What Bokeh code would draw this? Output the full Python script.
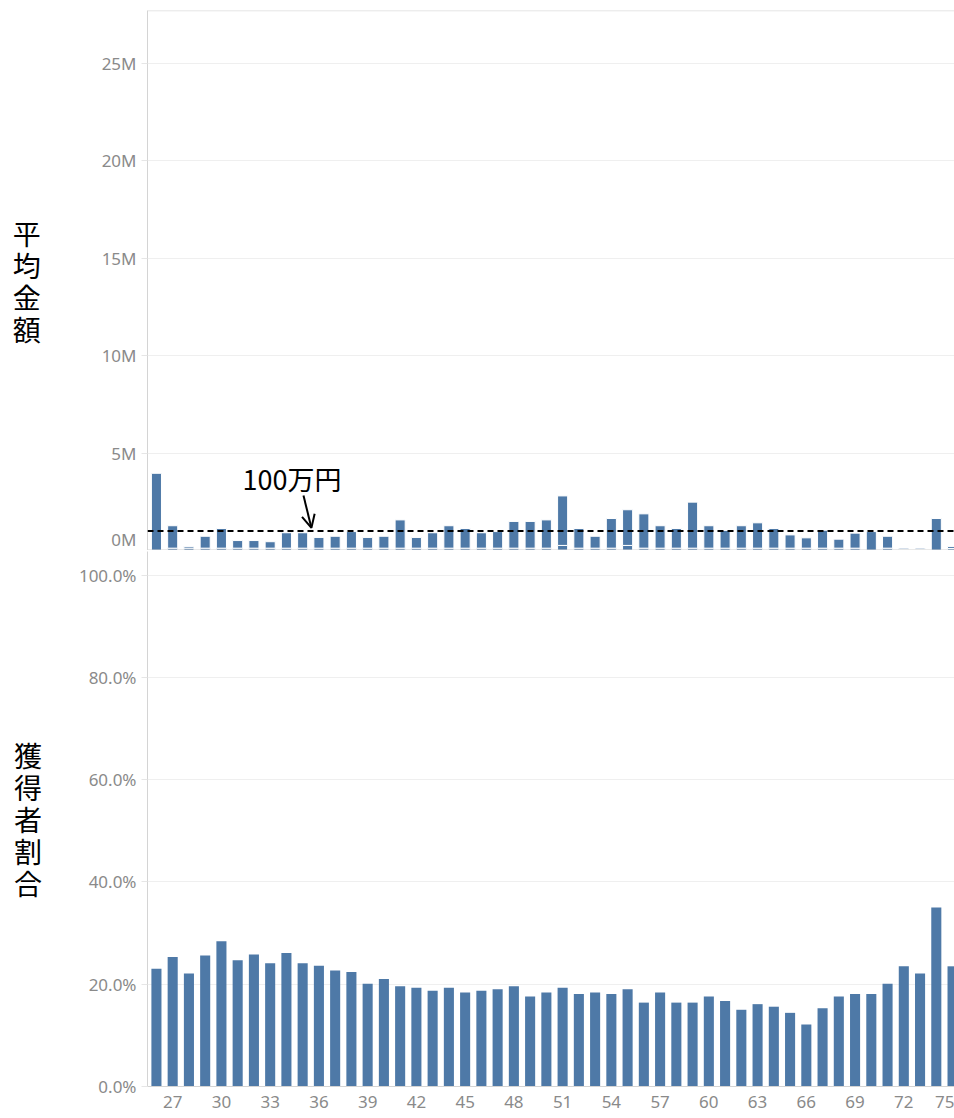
from bokeh.plotting import figure
from bokeh.layouts import column
from bokeh.models import (FixedTicker, PrintfTickFormatter, Range1d, Span, Label,
                          Arrow, OpenHead, ColumnDataSource)
from bokeh.embed import file_html
from bokeh.resources import INLINE

# ---------------- data ----------------
ages = list(range(26, 76))

# average amount (millions of yen), stacked: small lower segment + upper segment
amount_lower_m = [0.00, 0.12, 0.12, 0.12, 0.12, 0.12, 0.12, 0.12, 0.12, 0.12,
                  0.12, 0.12, 0.12, 0.12, 0.12, 0.12, 0.12, 0.12, 0.12, 0.12,
                  0.12, 0.12, 0.12, 0.12, 0.12, 0.26, 0.12, 0.12, 0.12, 0.26,
                  0.12, 0.12, 0.12, 0.12, 0.12, 0.12, 0.12, 0.12, 0.12, 0.12,
                  0.12, 0.12, 0.12, 0.12, 0.00, 0.12, 0.06, 0.06, 0.00, 0.10]
amount_upper_m = [3.96, 1.15, 0.08, 0.61, 1.01, 0.39, 0.39, 0.33, 0.79, 0.79,
                  0.55, 0.61, 0.85, 0.55, 0.61, 1.45, 0.55, 0.79, 1.15, 1.01,
                  0.79, 0.85, 1.37, 1.37, 1.45, 2.54, 1.01, 0.61, 1.52, 1.83,
                  1.76, 1.15, 1.01, 2.36, 1.15, 0.91, 1.15, 1.30, 1.01, 0.68,
                  0.53, 0.92, 0.46, 0.77, 0.97, 0.61, 0.06, 0.06, 1.64, 0.10]

# share of recipients (%)
recipient_share_pct = [23.0, 25.3, 22.1, 25.6, 28.4, 24.7, 25.8, 24.1, 26.1, 24.1,
                       23.6, 22.7, 22.4, 20.1, 21.0, 19.6, 19.3, 18.7, 19.3, 18.4,
                       18.7, 19.0, 19.6, 17.6, 18.4, 19.3, 18.1, 18.4, 18.1, 19.0,
                       16.4, 18.4, 16.4, 16.4, 17.6, 16.7, 15.0, 16.1, 15.6, 14.4,
                       12.1, 15.3, 17.6, 18.1, 18.1, 20.1, 23.5, 22.1, 35.0, 23.5]

x_ticks = list(range(27, 76, 3))
amount_ticks_m = [0, 5, 10, 15, 20, 25]
share_ticks_pct = [0, 20, 40, 60, 80, 100]

threshold_m = 1.0
threshold_label = "100万円"
annot_age = 35.5

top_axis_title = "平\n均\n金\n額"
bottom_axis_title = "獲\n得\n者\n割\n合"

assert len(ages) == len(amount_lower_m) == len(amount_upper_m) == len(recipient_share_pct)

# ---------------- style ----------------
BLUE = "#4e79a7"
GRID = "#efefef"
AXIS = "#d4d4d4"
TICKLAB = "#8a8a8a"
TICK_FONT = "Noto Sans"
CJK_FONT = "Noto Sans CJK JP"
W = 954
x_range = Range1d(25.45, 75.12)

src = ColumnDataSource(dict(age=ages, lower=amount_lower_m, upper=amount_upper_m,
                            share=recipient_share_pct))


def style_y(p, ticks, fmt, title, title_standoff):
    ax = p.yaxis[0]
    ax.ticker = FixedTicker(ticks=ticks)
    ax.formatter = PrintfTickFormatter(format=fmt)
    ax.axis_line_color = AXIS
    ax.major_tick_line_color = "#e6e6e6"
    ax.major_tick_out = 6
    ax.major_tick_in = 0
    ax.minor_tick_line_color = None
    ax.major_label_text_color = TICKLAB
    ax.major_label_text_font = TICK_FONT
    ax.major_label_text_font_size = "17px"
    ax.major_label_standoff = 5
    ax.axis_label = title
    ax.axis_label_orientation = "horizontal"
    ax.axis_label_standoff = title_standoff
    ax.axis_label_text_font = CJK_FONT
    ax.axis_label_text_font_size = "28px"
    ax.axis_label_text_font_style = "normal"
    ax.axis_label_text_color = "black"
    ax.axis_label_text_line_height = 0.8
    p.ygrid.grid_line_color = GRID
    p.ygrid.ticker = FixedTicker(ticks=ticks)
    p.xgrid.grid_line_color = None
    p.outline_line_color = None


# ---------------- top: average amount ----------------
top = figure(width=W, height=550, x_range=x_range, y_range=Range1d(0, 27.7),
             output_backend="svg", toolbar_location=None,
             min_border_left=147, min_border_right=0, min_border_top=10,
             min_border_bottom=0)
top.xaxis.visible = False
style_y(top, amount_ticks_m, "%dM", top_axis_title, 58)

top.vbar_stack(["lower", "upper"], x="age", width=0.62, source=src,
               color=[BLUE, BLUE], line_color="white", line_width=1)

top.add_layout(Span(location=27.69, dimension="width", line_color=AXIS, line_width=1))
top.add_layout(Span(location=0, dimension="width", line_color=AXIS, line_width=2))
top.add_layout(Span(location=threshold_m, dimension="width", line_color="black",
                    line_width=2, line_dash="6 4"))
top.add_layout(Arrow(end=OpenHead(size=13, line_width=2, line_color="black"),
                     x_start=annot_age - 0.45, y_start=threshold_m + 1.82,
                     x_end=annot_age + 0.04, y_end=threshold_m + 0.16,
                     line_width=2, line_color="black"))
top.add_layout(Label(x=annot_age - 1.15, y=threshold_m + 2.68, text=threshold_label,
                     text_align="center", text_baseline="middle",
                     text_font=CJK_FONT, text_font_size="27px", text_color="black"))

# ---------------- bottom: recipient share ----------------
bot = figure(width=W, height=566, x_range=x_range, y_range=Range1d(0, 104.6),
             output_backend="svg", toolbar_location=None,
             min_border_left=147, min_border_right=0, min_border_top=1,
             min_border_bottom=30)
style_y(bot, share_ticks_pct, "%.1f%%", bottom_axis_title, 34)
bot.vbar(x="age", top="share", width=0.62, source=src, color=BLUE, line_color=None)

xa = bot.xaxis[0]
xa.ticker = FixedTicker(ticks=x_ticks)
xa.axis_line_color = AXIS
xa.major_tick_line_color = None
xa.minor_tick_line_color = None
xa.major_label_text_color = TICKLAB
xa.major_label_text_font = TICK_FONT
xa.major_label_text_font_size = "17px"
xa.major_label_standoff = 3

layout = column(top, bot, spacing=0)
open("out.html", "w").write(file_html(layout, INLINE))
